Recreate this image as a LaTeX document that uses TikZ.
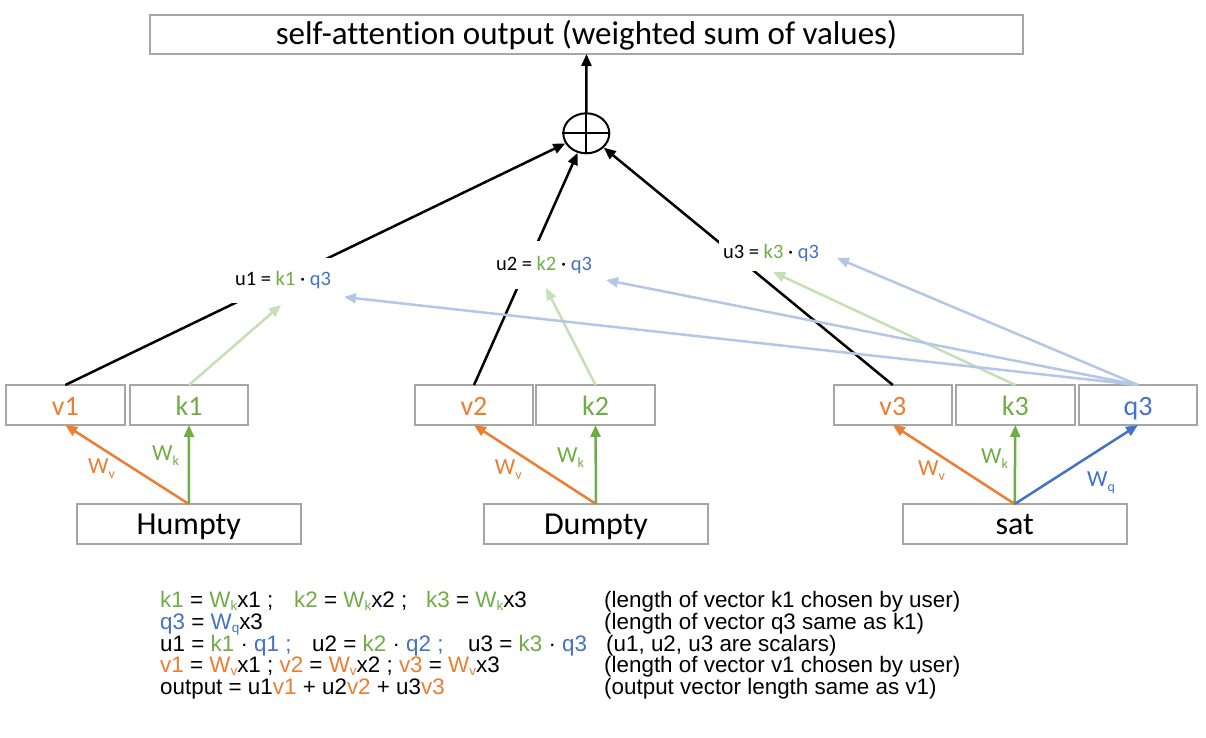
\documentclass[tikz,border=0pt]{standalone}
\usepackage{fontspec}
\setmainfont{Carlito}[Ligatures=CommonOff]
\newfontfamily\arialf{Liberation Sans}
\usetikzlibrary{arrows.meta,shapes.geometric}
\definecolor{corange}{HTML}{ED7D31}
\definecolor{cgreen}{HTML}{70AD47}
\definecolor{cblue}{HTML}{4472C4}
\definecolor{clgreen}{HTML}{C5E0B4}
\definecolor{clblue}{HTML}{B4C7E7}
\definecolor{boxgray}{HTML}{A6A6A6}
\newcommand\lsub[1]{\raisebox{-0.17em}{\fontsize{13.5}{13.5}\selectfont #1}}
\newcommand\wsub[1]{\raisebox{-0.25em}{\fontsize{14}{14}\selectfont #1}}
\begin{document}
\begin{tikzpicture}[x=1pt,y=-1pt,
  box/.style={draw=boxgray, line width=2pt, minimum height=40pt, inner sep=0pt, outer sep=0pt, text height=20.5pt, text depth=0pt},
  vecbox/.style={box, minimum width=118.5pt, font=\fontsize{28}{30}\selectfont},
  wordbox/.style={box, minimum width=224pt, font=\fontsize{32}{36}\selectfont},
  blk/.style={line width=2.5pt, -{Triangle[length=12pt,width=10pt]}},
  oar/.style={draw=corange, line width=2.5pt, -{Triangle[length=12pt,width=10pt]}},
  gar/.style={draw=cgreen, line width=2.5pt, -{Triangle[length=12pt,width=10pt]}},
  bar/.style={draw=cblue, line width=2.5pt, -{Triangle[length=12pt,width=10pt]}},
  lg/.style={draw=clgreen, line width=2.5pt, -{Triangle[length=12pt,width=10pt]}},
  lb/.style={draw=clblue, line width=2.5pt, -{Triangle[length=12pt,width=10pt]}},
  ulab/.style={fill=white, inner xsep=4pt, inner ysep=0pt, font=\fontsize{20.5}{24}\selectfont},
  wlab/.style={anchor=base west, inner sep=0pt, font=\fontsize{23}{26}\selectfont},
  txt/.style={anchor=base west, inner sep=0pt, font=\arialf\fontsize{22.4}{26}\selectfont}
]
\useasboundingbox (0,0) rectangle (1206,737);
\fill[white] (0,0) rectangle (1206,737);

% top box and sum
\node[box, minimum width=873pt, minimum height=39pt, font=\fontsize{33}{36}\selectfont] (out) at (586.5,34.5) {self-attention output (weighted sum of values)};
\node[draw, ellipse, line width=2pt, minimum width=46pt, minimum height=40pt, inner sep=0pt] (plus) at (586.3,133.3) {};
\draw[line width=2pt] (plus.north) -- (plus.south) (plus.west) -- (plus.east);

% vector boxes
\node[vecbox, text=corange] (v1) at (65.3,405) {v1};
\node[vecbox, text=cgreen] (k1) at (189,405) {k1};
\node[vecbox, text=corange] (v2) at (474,405) {v2};
\node[vecbox, text=cgreen] (k2) at (595.5,405) {k2};
\node[vecbox, text=corange] (v3) at (892.8,405) {v3};
\node[vecbox, text=cgreen] (k3) at (1015.3,405) {k3};
\node[vecbox, text=cblue] (q3) at (1138,405) {q3};

% word boxes
\node[wordbox] (hum) at (188.8,524) {Humpty};
\node[wordbox] (dum) at (596,524) {Dumpty};
\node[wordbox] (sat) at (1014.7,524) {sat};

% black lines to sum
\draw[blk] (v1.north) -- (plus);
\draw[blk] (v2.north) -- (plus);
\draw[blk] (v3.north) -- (plus);
\draw[blk] (plus.north) -- (out.south);

% score labels
\node[ulab, minimum height=45pt] (u1) at (283,280) {u1 = \textcolor{cgreen}{k1} · \textcolor{cblue}{q3}};
\node[ulab, minimum height=48pt] (u2) at (544,265) {u2 = \textcolor{cgreen}{k2} · \textcolor{cblue}{q3}};
\node[ulab, minimum height=35pt] (u3) at (771,253) {u3 = \textcolor{cgreen}{k3} · \textcolor{cblue}{q3}};

\coordinate (g1) at (281,305);
\coordinate (g2) at (546,288);
\coordinate (g3) at (773,272);
\coordinate (b1) at (344,297);
\coordinate (b2) at (606,280);
\coordinate (b3) at (837,258);

\draw[lg] (k1.north) -- (g1);
\draw[lg] (k2.north) -- (g2);
\draw[lg] (k3.north) -- (g3);
\draw[lb] (q3.north) -- (b1);
\draw[lb] (q3.north) -- (b2);
\draw[lb] (q3.north) -- (b3);

% projections
\draw[oar] (hum.north) -- (v1.south);
\draw[gar] (hum.north) -- (k1.south);
\draw[oar] (dum.north) -- (v2.south);
\draw[gar] (dum.north) -- (k2.south);
\draw[oar] (sat.north) -- (v3.south);
\draw[gar] (sat.north) -- (k3.south);
\draw[bar] (sat.north) -- (q3.south);

\node[wlab, text=corange] (wv1) at (88,473) {W\wsub{v}};
\node[wlab, text=cgreen] (wk1) at (152,460) {W\wsub{k}};
\node[wlab, text=corange] (wv2) at (494.7,474) {W\wsub{v}};
\node[wlab, text=cgreen] (wk2) at (557,462) {W\wsub{k}};
\node[wlab, text=corange] (wv3) at (918,475) {W\wsub{v}};
\node[wlab, text=cgreen] (wk3) at (981,463) {W\wsub{k}};
\node[wlab, text=cblue] (wq3) at (1087,486) {W\wsub{q}};

% equations
\node[txt] (l1) at (160,607) {\makebox[134pt][l]{\textcolor{cgreen}{k1} = \textcolor{cgreen}{W\lsub{k}}x1 ;}\makebox[132pt][l]{\textcolor{cgreen}{k2} = \textcolor{cgreen}{W\lsub{k}}x2 ;}\textcolor{cgreen}{k3} = \textcolor{cgreen}{W\lsub{k}}x3};
\node[txt] (l2) at (160,629) {\textcolor{cblue}{q3} = \textcolor{cblue}{W\lsub{q}}x3};
\node[txt] (l3) at (160,651) {\makebox[152pt][l]{u1 = \textcolor{cgreen}{k1} · \textcolor{cblue}{q1 ;}}\makebox[156pt][l]{u2 = \textcolor{cgreen}{k2} · \textcolor{cblue}{q2 ;}}u3 = \textcolor{cgreen}{k3} · \textcolor{cblue}{q3}};
\node[txt] (l4) at (160,672) {\textcolor{corange}{v1} = \textcolor{corange}{W\lsub{v}}x1 ; \textcolor{corange}{v2} = \textcolor{corange}{W\lsub{v}}x2 ; \textcolor{corange}{v3} = \textcolor{corange}{W\lsub{v}}x3};
\node[txt] (l5) at (160,694) {output = u1\textcolor{corange}{v1} + u2\textcolor{corange}{v2} + u3\textcolor{corange}{v3}};

\node[txt] (r1) at (604,607) {(length of vector k1 chosen by user)};
\node[txt] (r2) at (604,629) {(length of vector q3 same as k1)};
\node[txt] (r3) at (606,651) {(u1, u2, u3 are scalars)};
\node[txt] (r4) at (604,672) {(length of vector v1 chosen by user)};
\node[txt] (r5) at (604,694) {(output vector length same as v1)};
\end{tikzpicture}
\end{document}
